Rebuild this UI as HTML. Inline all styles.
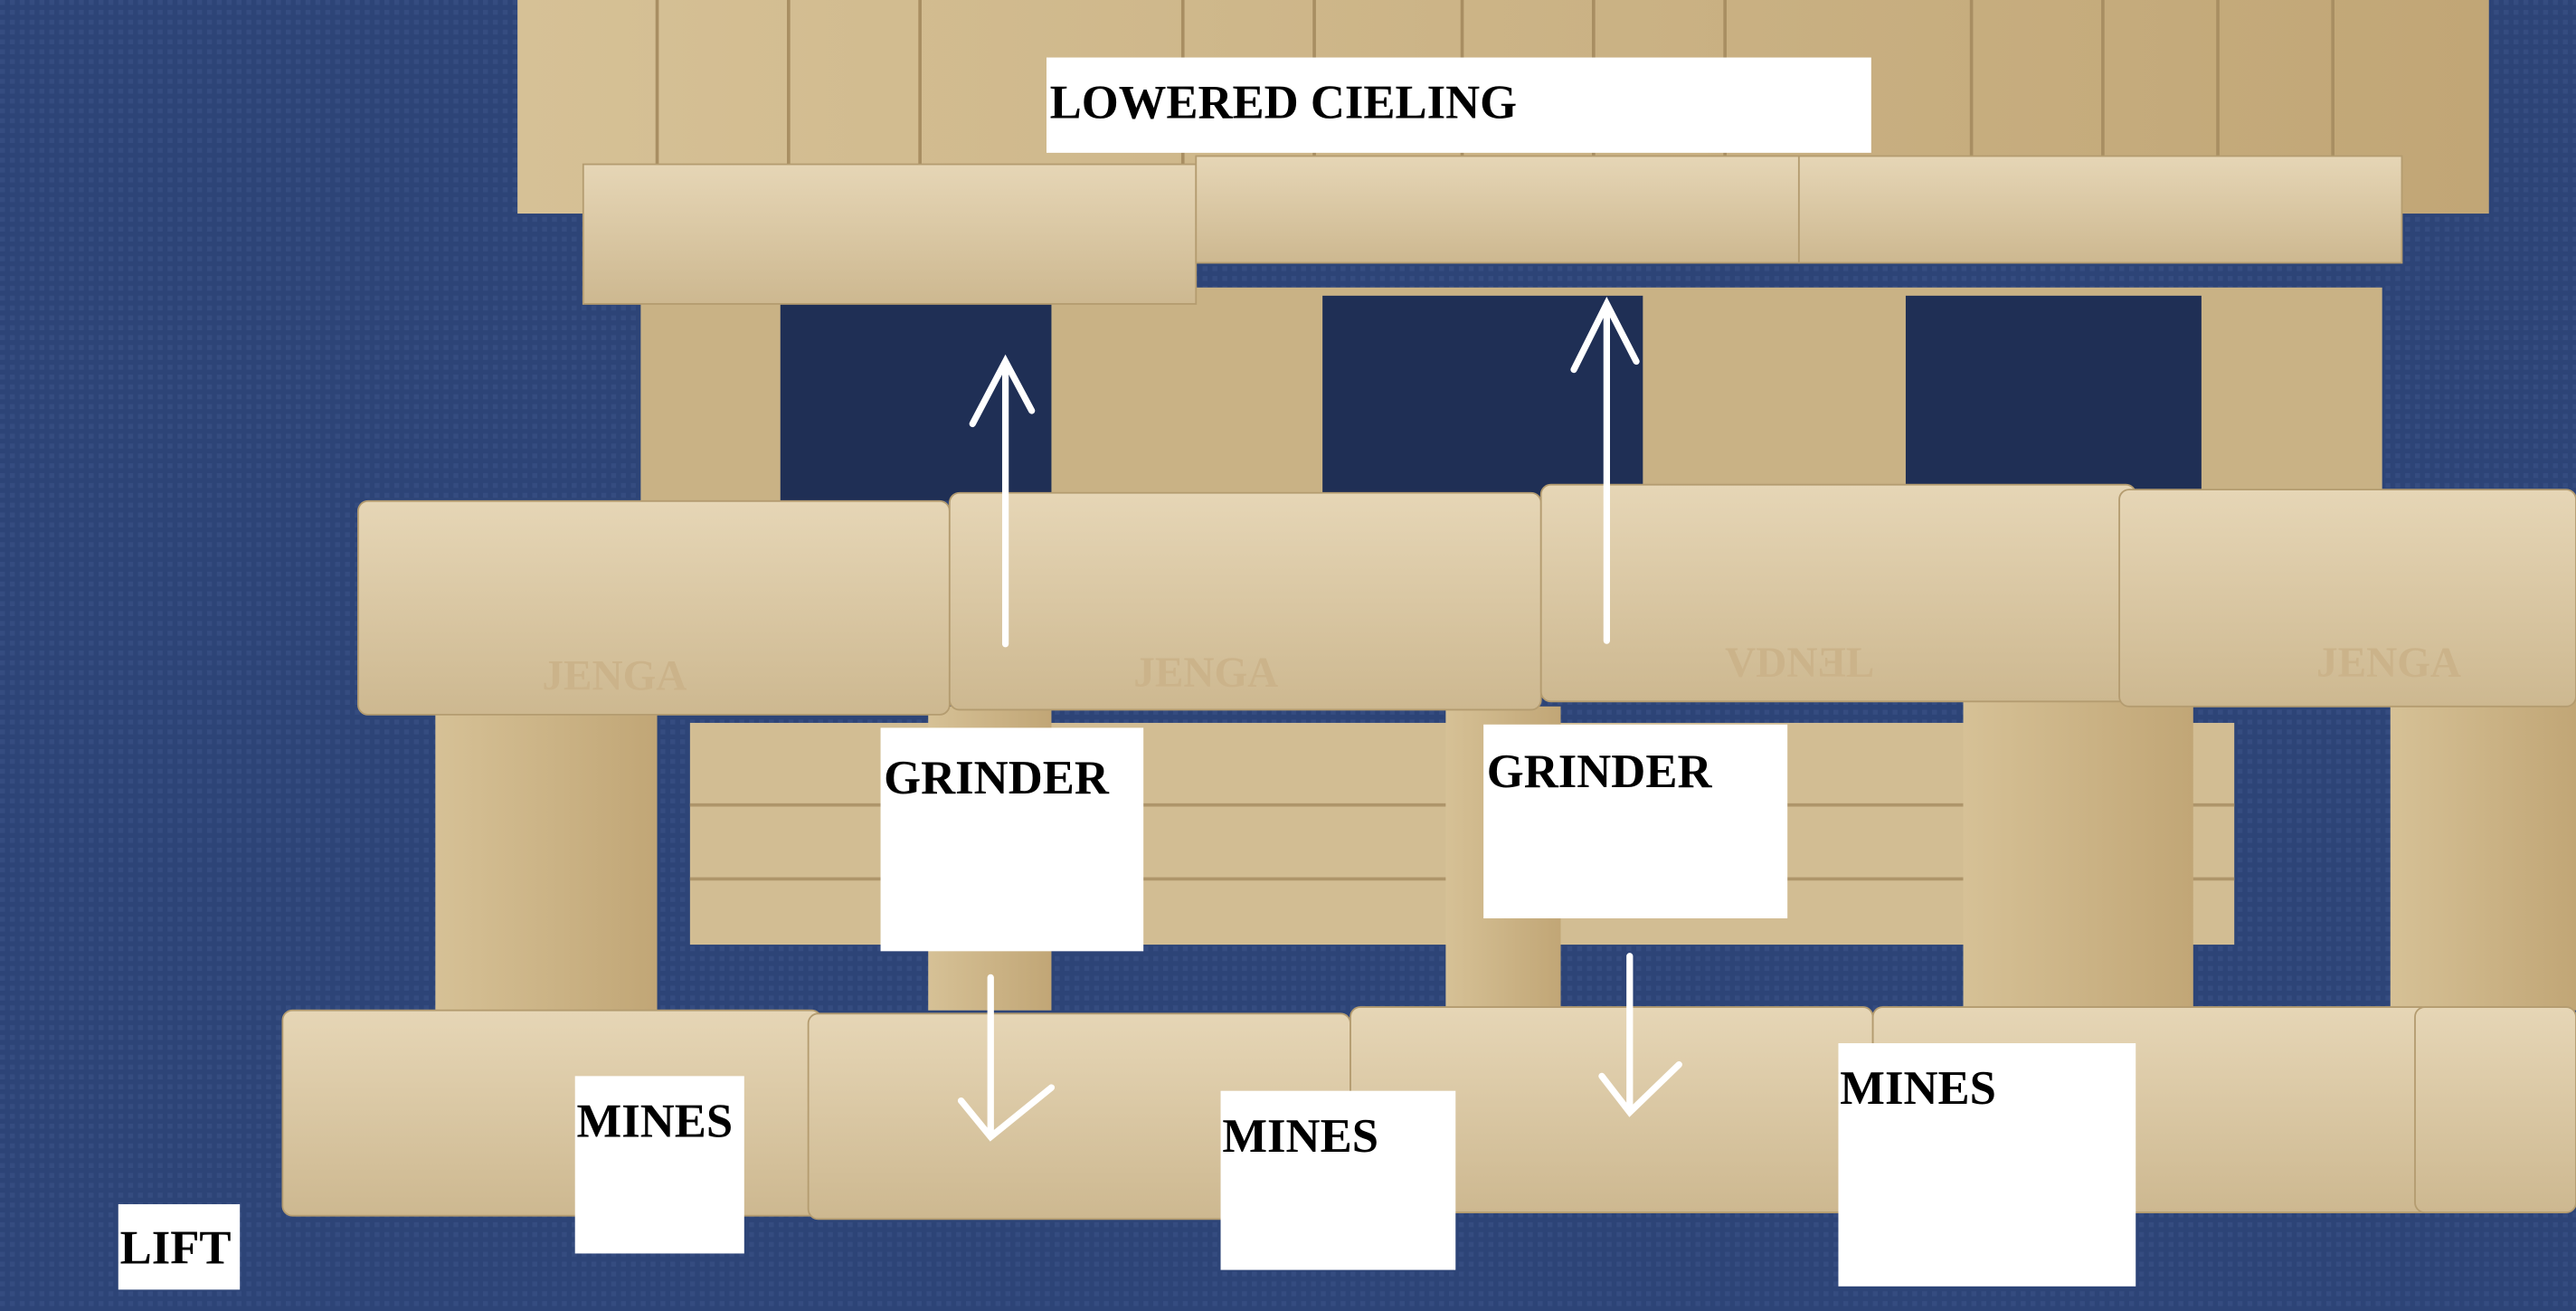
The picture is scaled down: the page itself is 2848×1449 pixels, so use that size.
<!DOCTYPE html>
<html><head><meta charset="utf-8"><style>
html,body{margin:0;padding:0;background:#2c416f;}
svg{display:block}
text{font-family:"Liberation Serif",serif;font-weight:bold;fill:#000}
</style></head><body>
<svg width="2848" height="1449" viewBox="0 0 1568 798" preserveAspectRatio="none" xmlns="http://www.w3.org/2000/svg">
<defs>
<linearGradient id="wood" x1="0" y1="0" x2="0" y2="1">
<stop offset="0" stop-color="#e6d6b6"/><stop offset="1" stop-color="#cdb890"/></linearGradient>
<linearGradient id="woodv" x1="0" y1="0" x2="1" y2="0">
<stop offset="0" stop-color="#d6c196"/><stop offset="1" stop-color="#c1a676"/></linearGradient>
<pattern id="carpet" width="6" height="6" patternUnits="userSpaceOnUse">
<rect width="6" height="6" fill="#2d4477"/><rect width="3" height="3" fill="#354c80"/></pattern>
</defs>
<rect width="1568" height="798" fill="url(#carpet)"/>
<rect x="315" y="0" width="1200" height="130" fill="url(#woodv)"/>
<g stroke="#a88e62" stroke-width="2">
<line x1="400" y1="0" x2="400" y2="125"/><line x1="480" y1="0" x2="480" y2="125"/><line x1="560" y1="0" x2="560" y2="125"/>
<line x1="720" y1="0" x2="720" y2="125"/><line x1="800" y1="0" x2="800" y2="125"/><line x1="890" y1="0" x2="890" y2="125"/>
<line x1="970" y1="0" x2="970" y2="125"/><line x1="1050" y1="0" x2="1050" y2="125"/><line x1="1200" y1="0" x2="1200" y2="125"/>
<line x1="1280" y1="0" x2="1280" y2="125"/><line x1="1350" y1="0" x2="1350" y2="125"/><line x1="1420" y1="0" x2="1420" y2="125"/>
</g>
<rect x="390" y="175" width="1060" height="130" fill="#c9b285"/>
<rect x="475" y="180" width="165" height="125" fill="#1f2f55"/>
<rect x="805" y="180" width="195" height="125" fill="#1f2f55"/>
<rect x="1160" y="180" width="180" height="125" fill="#1f2f55"/>
<rect x="355" y="100" width="373" height="85" fill="url(#wood)" stroke="#b49c70"/>
<rect x="728" y="95" width="367" height="65" fill="url(#wood)" stroke="#b49c70"/>
<rect x="1095" y="95" width="367" height="65" fill="url(#wood)" stroke="#b49c70"/>
<rect x="420" y="440" width="940" height="135" fill="#d2bd93"/>
<g stroke="#ae956a" stroke-width="2"><line x1="420" y1="490" x2="1360" y2="490"/><line x1="420" y1="535" x2="1360" y2="535"/></g>
<rect x="265" y="430" width="135" height="185" fill="url(#woodv)"/>
<rect x="565" y="430" width="75" height="185" fill="url(#woodv)"/>
<rect x="880" y="430" width="70" height="185" fill="url(#woodv)"/>
<rect x="1195" y="425" width="140" height="190" fill="url(#woodv)"/>
<rect x="1455" y="425" width="113" height="190" fill="url(#woodv)"/>
<rect x="218" y="305" width="360" height="130" rx="6" fill="url(#wood)" stroke="#b49c70"/>
<rect x="578" y="300" width="360" height="132" rx="6" fill="url(#wood)" stroke="#b49c70"/>
<rect x="938" y="295" width="362" height="132" rx="6" fill="url(#wood)" stroke="#b49c70"/>
<rect x="1290" y="298" width="278" height="132" rx="6" fill="url(#wood)" stroke="#b49c70"/>
<g font-size="26">
<text x="330" y="420" style="fill:#cbb38a">JENGA</text><text x="690" y="418" style="fill:#cbb38a">JENGA</text>
<text x="1050" y="412" style="fill:#cbb38a">VDNƎL</text><text x="1410" y="412" style="fill:#cbb38a">JENGA</text>
</g>
<rect x="172" y="615" width="328" height="125" rx="6" fill="url(#wood)" stroke="#b49c70"/>
<rect x="492" y="617" width="330" height="125" rx="6" fill="url(#wood)" stroke="#b49c70"/>
<rect x="822" y="613" width="318" height="125" rx="6" fill="url(#wood)" stroke="#b49c70"/>
<rect x="1140" y="613" width="340" height="125" rx="6" fill="url(#wood)" stroke="#b49c70"/>
<rect x="1470" y="613" width="98" height="125" rx="6" fill="url(#wood)" stroke="#b49c70"/>
<g stroke="#fff" stroke-width="4" fill="none" stroke-linecap="round">
<path d="M612 392 L612 222 M592 258 L612 220 L628 250"/>
<path d="M978 390 L978 188 M958 225 L978 185 L996 220"/>
<path d="M603 595 L603 690 M585 670 L603 692 L640 662"/>
<path d="M992 582 L992 675 M975 655 L992 677 L1022 648"/>
</g>
<rect x="637" y="35" width="502" height="58" fill="#fff"/>
<text x="639" y="72" font-size="29">LOWERED CIELING</text>
<rect x="536" y="443" width="160" height="136" fill="#fff"/>
<text x="538" y="483" font-size="29">GRINDER</text>
<rect x="903" y="441" width="185" height="118" fill="#fff"/>
<text x="905" y="479" font-size="29">GRINDER</text>
<rect x="350" y="655" width="103" height="108" fill="#fff"/>
<text x="351" y="692" font-size="29">MINES</text>
<rect x="743" y="664" width="143" height="109" fill="#fff"/>
<text x="744" y="701" font-size="29">MINES</text>
<rect x="1119" y="635" width="181" height="148" fill="#fff"/>
<text x="1120" y="672" font-size="29">MINES</text>
<rect x="72" y="733" width="74" height="52" fill="#fff"/>
<text x="73" y="769" font-size="29">LIFT</text>
</svg>
</body></html>
